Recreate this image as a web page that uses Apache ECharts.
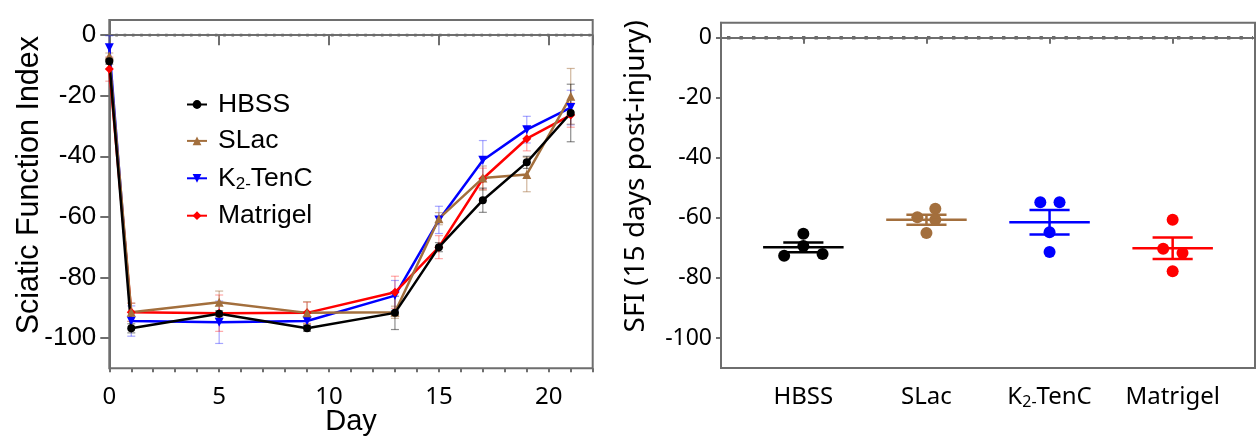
<!DOCTYPE html>
<html>
<head>
<meta charset="utf-8">
<script src="https://cdn.jsdelivr.net/npm/echarts@6/dist/echarts.min.js"></script>
<style>
html,body{margin:0;padding:0;background:#fff;}
#c{width:1257px;height:445px;}
</style>
</head>
<body>
<div id="c"></div>
<script>
// ---------- DATA ----------
const days = [0, 1, 5, 9, 13, 15, 17, 19, 21];
const hbss     = [-8.6, -96.8, -92.0, -96.8, -91.7, -70.0, -54.5, -42.0, -25.7];
const hbssErr  = [1.0, 1.5, 1.0, 1.0, 5.5, 1.5, 4.0, 2.0, 9.5];
const slac     = [-6.9, -91.5, -88.2, -91.7, -91.5, -60.6, -47.2, -46.0, -20.2];
const slacErr  = [1.0, 3.0, 3.7, 3.7, 2.0, 2.0, 4.0, 5.7, 9.2];
const k2       = [-4.2, -94.4, -94.8, -94.4, -86.0, -61.0, -41.3, -31.2, -23.9];
const k2Err    = [4.0, 5.0, 7.0, 1.5, 5.0, 4.5, 6.5, 4.4, 5.7];
const matri    = [-11.2, -91.5, -91.8, -91.7, -84.9, -70.0, -47.4, -34.2, -26.4];
const matriErr = [4.0, 3.0, 6.0, 3.5, 5.3, 3.8, 3.5, 4.0, 4.0];

const groups = ['HBSS', 'SLac', 'K2-TenC', 'Matrigel'];
const sfiHBSS  = [-72.6, -65.3, -69.4, -72.0];
const sfiSLac  = [-59.8, -57.0, -60.6, -65.0];
const sfiK2    = [-54.8, -54.8, -64.8, -71.4];
const sfiMatri = [-60.6, -70.3, -71.7, -77.8];
// horizontal jitter of the dots (category units)
const jitHBSS  = [-0.156, 0, 0, 0.156];
const jitSLac  = [-0.074, 0.072, 0.072, 0];
const jitK2    = [-0.075, 0.081, 0, 0];
const jitMatri = [0, -0.077, 0.08, 0];

const dayTicks = [0, 5, 10, 15, 20, 22];
const dayLabels = [0, 5, 10, 15, 20];
const dayMinor = [0,1,2,3,4,5,6,7,8,9,10,11,12,13,14,15,16,17,18,19,20,21,22];
const yTicks = [-100, -80, -60, -40, -20, 0];
const catTicks = [1, 2, 3, 4];
const zeroRef = [0];

// ---------- STYLE ----------
const C = {HBSS:'#000000', SLac:'#A36F3D', 'K2-TenC':'#0000FF', Matrigel:'#FF0000'};
const CE = {HBSS:'rgba(0,0,0,0.45)', SLac:'rgba(163,111,61,0.5)', 'K2-TenC':'rgba(0,0,255,0.35)', Matrigel:'rgba(255,0,0,0.35)'};
const boxColor = '#6E6E6E';

function zeroLine(xi, yi, w, dot, gap) {
  return {
    type: 'custom', xAxisIndex: xi, yAxisIndex: yi, z: 2, silent: true,
    data: zeroRef.map(v => [v]),
    encode: {y: 0},
    renderItem: function (params, api) {
      const cs = params.coordSys;
      const p = api.coord([0, api.value(0)]);
      return {type: 'line',
        shape: {x1: cs.x + 6, y1: p[1], x2: cs.x + cs.width - 2, y2: p[1]},
        style: {stroke: '#6A6A6A', lineWidth: w, lineDash: [dot, gap], lineCap: 'butt', fill: null}};
    }
  };
}
function errSeries(name, vals, errs) {
  return {
    type: 'custom', xAxisIndex: 0, yAxisIndex: 0, z: 1, silent: true,
    data: days.map((d, i) => [d, vals[i], errs[i]]),
    encode: {x: 0, y: 1},
    renderItem: function (params, api) {
      const x = api.value(0), y = api.value(1), e = api.value(2);
      const lo = api.coord([x, y - e]), hi = api.coord([x, y + e]);
      const w = 4;
      const st = {stroke: CE[name], lineWidth: 1.2, fill: null};
      return {type: 'group', children: [
        {type: 'line', shape: {x1: lo[0], y1: lo[1], x2: hi[0], y2: hi[1]}, style: st},
        {type: 'line', shape: {x1: lo[0]-w, y1: lo[1], x2: lo[0]+w, y2: lo[1]}, style: st},
        {type: 'line', shape: {x1: hi[0]-w, y1: hi[1], x2: hi[0]+w, y2: hi[1]}, style: st}
      ]};
    }
  };
}
function lineSeries(name, vals, symbol, size, rot) {
  return {
    name: name, type: 'line', xAxisIndex: 0, yAxisIndex: 0, z: 3,
    data: days.map((d, i) => [d, vals[i]]),
    symbol: symbol, symbolSize: size, symbolRotate: rot || 0, showSymbol: true,
    lineStyle: {color: C[name], width: 2.5},
    itemStyle: {color: C[name]},
    emphasis: {disabled: true}
  };
}
const sfiSets = [
  ['HBSS', sfiHBSS, jitHBSS],
  ['SLac', sfiSLac, jitSLac],
  ['K2-TenC', sfiK2, jitK2],
  ['Matrigel', sfiMatri, jitMatri]
];
function meanSem(v) {
  const n = v.length, m = v.reduce((a, b) => a + b, 0) / n;
  const sd = Math.sqrt(v.reduce((a, b) => a + (b - m) * (b - m), 0) / (n - 1));
  return [m, sd / Math.sqrt(n)];
}
const scatterSeries = sfiSets.map((g, gi) => ({
  name: 'sfi-' + g[0], type: 'scatter', xAxisIndex: 2, yAxisIndex: 1, z: 3,
  symbol: 'circle', symbolSize: 12,
  itemStyle: {color: C[g[0]], opacity: 1},
  data: g[1].map((v, i) => [catTicks[gi] + g[2][i], v]),
  emphasis: {disabled: true}
}));
const meanSeries = {
  type: 'custom', xAxisIndex: 2, yAxisIndex: 1, z: 4, silent: true,
  data: sfiSets.map((g, gi) => { const ms = meanSem(g[1]); return [catTicks[gi], ms[0], ms[1], gi]; }),
  encode: {x: 0, y: 1},
  renderItem: function (params, api) {
    const c = api.value(0), m = api.value(1), s = api.value(2), gi = api.value(3);
    const col = C[groups[gi]];
    const st = {stroke: col, lineWidth: 2.5, fill: null};
    const a = api.coord([c - 0.327, m]), b = api.coord([c + 0.327, m]);
    const lo1 = api.coord([c - 0.163, m - s]), lo2 = api.coord([c + 0.163, m - s]);
    const hi1 = api.coord([c - 0.163, m + s]), hi2 = api.coord([c + 0.163, m + s]);
    return {type: 'group', children: [
      {type: 'line', shape: {x1: a[0], y1: a[1], x2: b[0], y2: b[1]}, style: st},
      {type: 'line', shape: {x1: (lo1[0]+lo2[0])/2, y1: lo1[1], x2: (hi1[0]+hi2[0])/2, y2: hi1[1]}, style: st},
      {type: 'line', shape: {x1: lo1[0], y1: lo1[1], x2: lo2[0], y2: lo2[1]}, style: st},
      {type: 'line', shape: {x1: hi1[0], y1: hi1[1], x2: hi2[0], y2: hi2[1]}, style: st}
    ]};
  }
};

const chart = echarts.init(document.getElementById('c'), null, {renderer: 'canvas'});
const option = {
  animation: false,
  backgroundColor: '#fff',
  grid: [
    {left: 109.3, top: 20, right: 664.3, bottom: 76.7, show: true, borderColor: boxColor, borderWidth: 2, backgroundColor: 'transparent', outerBoundsMode: 'none', containLabel: false},
    {left: 721, top: 22.7, right: 2, bottom: 77, show: true, borderColor: boxColor, borderWidth: 2, backgroundColor: 'transparent', outerBoundsMode: 'none', containLabel: false}
  ],
  legend: {
    data: ['HBSS', 'SLac', 'K2-TenC', 'Matrigel'],
    orient: 'vertical', left: 181, top: 86,
    itemWidth: 20, itemHeight: 11, itemGap: 9.4,
    selectedMode: false,
    formatter: function (n) { return n === 'K2-TenC' ? '{n|K}{s|2-}{n|TenC}' : '{n|' + n + '}'; },
    textStyle: {
      fontFamily: 'Liberation Sans', fontSize: 26.5, color: '#000', padding: [0, 0, 0, 6],
      rich: {
        n: {fontFamily: 'Liberation Sans', fontSize: 26.5, color: '#000', lineHeight: 30},
        s: {fontFamily: 'Liberation Sans', fontSize: 17, color: '#000', lineHeight: 18, padding: [12, 0, 0, 0]}
      }
    }
  },
  xAxis: [
    {
      type: 'value', gridIndex: 0, min: 0, max: 22, position: 'bottom',
      name: 'Day', nameLocation: 'middle', nameGap: 39, nameMoveOverlap: false,
      nameTextStyle: {fontFamily: 'Liberation Sans', fontSize: 29, color: '#000'},
      axisLine: {show: true, lineStyle: {color: boxColor, width: 2}},
      axisTick: {show: true, length: 10, lineStyle: {color: boxColor, width: 2}, customValues: dayTicks},
      axisLabel: {show: true, margin: 17, fontFamily: 'Noto Sans', fontSize: 24, color: '#000', customValues: dayLabels},
      splitLine: {show: false}
    },
    {
      type: 'value', gridIndex: 0, min: 0, max: 22, position: 'bottom',
      axisLine: {show: false},
      axisTick: {show: true, length: 4, lineStyle: {color: boxColor, width: 2}, customValues: dayMinor},
      axisLabel: {show: false},
      splitLine: {show: false}
    },
    {
      type: 'value', gridIndex: 1, min: 0.331, max: 4.669, position: 'bottom',
      axisLine: {show: true, lineStyle: {color: boxColor, width: 2}},
      axisTick: {show: true, length: 6, lineStyle: {color: boxColor, width: 2}, customValues: catTicks},
      axisLabel: {
        show: true, margin: 15, customValues: catTicks,
        fontFamily: 'Noto Sans', fontSize: 24, color: '#000',
        formatter: function (v) {
          const g = groups[Math.round(v) - 1];
          return g === 'K2-TenC' ? '{n|K}{s|2-}{n|TenC}' : '{n|' + g + '}';
        },
        rich: {
          n: {fontFamily: 'Noto Sans', fontSize: 24, color: '#000', lineHeight: 28},
          s: {fontFamily: 'Noto Sans', fontSize: 16, color: '#000', lineHeight: 18, padding: [11, 0, 0, 0]}
        }
      },
      splitLine: {show: false}
    }
  ],
  yAxis: [
    {
      type: 'value', gridIndex: 0, min: -110, max: 5,
      name: 'Sciatic Function Index', nameLocation: 'middle', nameGap: 64, nameMoveOverlap: false,
      nameTextStyle: {fontFamily: 'Liberation Sans', fontSize: 30.5, color: '#000', padding: [0, 0, 0, 18]},
      axisLine: {show: true, lineStyle: {color: boxColor, width: 2}},
      axisTick: {show: true, length: 9, lineStyle: {color: boxColor, width: 2}, customValues: yTicks},
      axisLabel: {show: true, margin: 13, fontFamily: 'Liberation Sans', fontSize: 26, color: '#000', customValues: yTicks},
      splitLine: {show: false}
    },
    {
      type: 'value', gridIndex: 1, min: -110, max: 5,
      name: 'SFI (15 days post-injury)', nameLocation: 'middle', nameGap: 71, nameMoveOverlap: false,
      nameTextStyle: {fontFamily: 'Noto Sans', fontSize: 28, color: '#000', padding: [0, 0, 0, 38]},
      axisLine: {show: true, lineStyle: {color: boxColor, width: 2}},
      axisTick: {show: true, length: 5, lineStyle: {color: boxColor, width: 2}, customValues: yTicks},
      axisLabel: {show: true, margin: 9, fontFamily: 'Noto Sans', fontSize: 23, color: '#000', customValues: yTicks},
      splitLine: {show: false}
    }
  ],
  series: [
    zeroLine(0, 0, 2.6, 2.6, 5.7),
    zeroLine(2, 1, 3.4, 3.4, 9.1),
    errSeries('K2-TenC', k2, k2Err),
    errSeries('Matrigel', matri, matriErr),
    errSeries('SLac', slac, slacErr),
    errSeries('HBSS', hbss, hbssErr),
    lineSeries('K2-TenC', k2, 'triangle', 9, 180),
    lineSeries('Matrigel', matri, 'diamond', 9),
    lineSeries('SLac', slac, 'triangle', 9),
    lineSeries('HBSS', hbss, 'circle', 8),
    ...scatterSeries,
    meanSeries
  ]
};
chart.setOption(option);
</script>
</body>
</html>
